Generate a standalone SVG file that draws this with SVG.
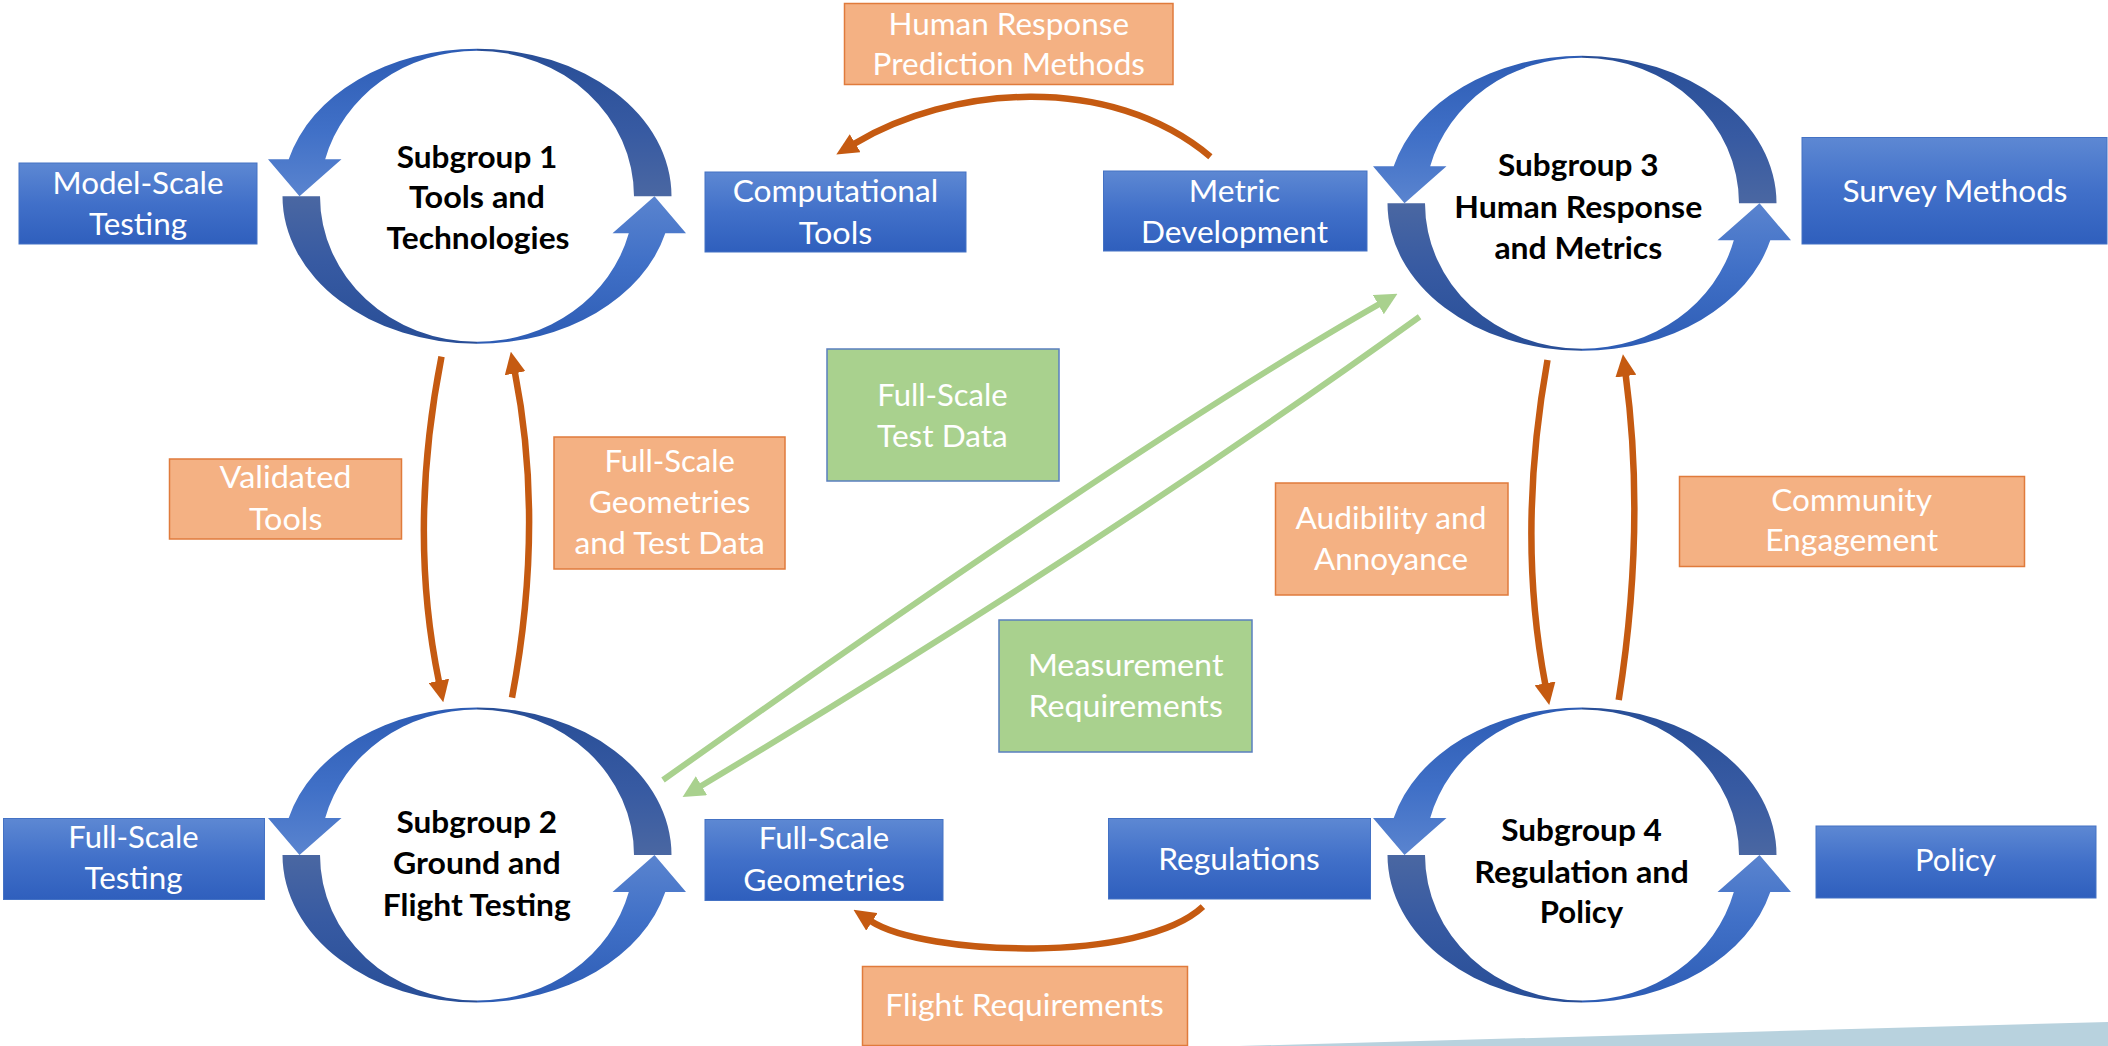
<svg xmlns="http://www.w3.org/2000/svg" width="2108" height="1046" viewBox="0 0 2108 1046">
  <style>
    .lbl { font-family: Lato, "Liberation Sans", sans-serif; font-size: 30.5px; fill: #ffffff; }
    .ttl { font-family: Lato, "Liberation Sans", sans-serif; font-size: 30.5px; font-weight: 700; fill: #000000; }
    .box-blue { fill: url(#g-box); stroke: #4472c4; stroke-width: 1; }
    .box-orange { fill: #f4b183; stroke: #e07b3c; stroke-width: 1.5; }
    .box-green { fill: #a9d18e; stroke: #5a7fbf; stroke-width: 1.5; }
    .conn-orange { fill: none; stroke: #c55a11; stroke-width: 6.5; marker-end: url(#ah-orange); }
    .conn-green { fill: none; stroke: #a9d18e; stroke-width: 6; marker-end: url(#ah-green); }
  </style>
  <defs>
    <linearGradient id="g-box" x1="0" y1="0" x2="0" y2="1">
      <stop offset="0" stop-color="#5d88d3"/>
      <stop offset="0.5" stop-color="#4170c9"/>
      <stop offset="1" stop-color="#2f5fbd"/>
    </linearGradient>
    <!-- lit half of each curved arrow: pinch point to arrowhead -->
    <linearGradient id="g-front" x1="0" y1="0" x2="0" y2="1">
      <stop offset="0" stop-color="#2d5cb4"/>
      <stop offset="0.55" stop-color="#4070c7"/>
      <stop offset="1" stop-color="#5a84cf"/>
    </linearGradient>
    <!-- shaded half of each curved arrow: flat tail to pinch point -->
    <linearGradient id="g-back" x1="0" y1="0" x2="0" y2="1">
      <stop offset="0" stop-color="#4a67a2"/>
      <stop offset="0.45" stop-color="#375aa2"/>
      <stop offset="1" stop-color="#284e97"/>
    </linearGradient>
    <path id="arc-front" d="M0,-147.5 A194.5,147.5 0 0 0 -188.3,-37 L-209,-37 L-177.5,0 L-135.5,-37 L-151.8,-37 A157,145.5 0 0 1 0,-145.5 Z"/>
    <path id="arc-back" d="M-194.5,0 A194.5,147.5 0 0 0 0,147.5 L0,145.5 A157,145.5 0 0 1 -157,0 Z"/>
    <!-- two curved arrows chasing each other round an ellipse -->
    <g id="ring">
      <use href="#arc-front" fill="url(#g-front)"/>
      <use href="#arc-back" fill="url(#g-back)"/>
      <use href="#arc-front" fill="url(#g-front)" transform="rotate(180)"/>
      <use href="#arc-back" fill="url(#g-back)" transform="rotate(180)"/>
    </g>
    <marker id="ah-orange" markerUnits="userSpaceOnUse" viewBox="0 0 22 21" markerWidth="22" markerHeight="21" refX="1" refY="10.5" orient="auto">
      <path d="M0,0 L22,10.5 L0,21 Z" fill="#c55a11"/>
    </marker>
    <marker id="ah-green" markerUnits="userSpaceOnUse" viewBox="0 0 22 22" markerWidth="22" markerHeight="22" refX="1" refY="11" orient="auto">
      <path d="M0,0 L22,11 L0,22 Z" fill="#a9d18e"/>
    </marker>
  </defs>

  <rect x="0" y="0" width="2108" height="1046" fill="#ffffff"/>

  <!-- decorative band in the lower right corner -->
  <g id="corner-band">
    <polygon points="1239,1046 2108,1022 2108,1046" fill="#b8d2de"/>
  </g>

  <g id="connectors">
    <path class="conn-orange" d="M1210.4,156.7 C1108.8,71.4 949,86.7 854.3,143.7"/>
    <path class="conn-orange" d="M1202.9,906.7 C1141.1,964.3 923.6,955.4 871.1,921.3"/>
    <path class="conn-orange" d="M441.5,356.7 Q407.5,530 439,681.8"/>
    <path class="conn-orange" d="M512,697.7 Q544.7,524 514.9,372.3"/>
    <path class="conn-orange" d="M1547.5,360 Q1516.4,533 1545.3,684.4"/>
    <path class="conn-orange" d="M1618.7,700 Q1646,527 1625.7,375.1"/>
    <path class="conn-green" d="M663,780 Q1148.6,435.2 1379.2,304.2"/>
    <path class="conn-green" d="M1419.6,316.7 Q1100,546.8 700.6,786.2"/>
  </g>

  <!-- subgroup cycles -->
  <g id="subgroup-1">
    <use href="#ring" transform="translate(477,196.3)"/>
    <text class="ttl" x="396.8" y="167.5" textLength="160.5" lengthAdjust="spacingAndGlyphs">Subgroup 1</text>
    <text class="ttl" x="409" y="208" textLength="136" lengthAdjust="spacingAndGlyphs">Tools and</text>
    <text class="ttl" x="386.5" y="248.5" textLength="183" lengthAdjust="spacingAndGlyphs">Technologies</text>
  </g>
  <g id="subgroup-2">
    <use href="#ring" transform="translate(477,855)"/>
    <text class="ttl" x="396.5" y="832.5" textLength="160.5" lengthAdjust="spacingAndGlyphs">Subgroup 2</text>
    <text class="ttl" x="393" y="874" textLength="167.6" lengthAdjust="spacingAndGlyphs">Ground and</text>
    <text class="ttl" x="382.8" y="915.8" textLength="188" lengthAdjust="spacingAndGlyphs">Flight Testing</text>
  </g>
  <g id="subgroup-3">
    <use href="#ring" transform="translate(1582,203.3)"/>
    <text class="ttl" x="1498" y="176" textLength="160.5" lengthAdjust="spacingAndGlyphs">Subgroup 3</text>
    <text class="ttl" x="1454.3" y="218.3" textLength="248" lengthAdjust="spacingAndGlyphs">Human Response</text>
    <text class="ttl" x="1494.4" y="258.8" textLength="167.8" lengthAdjust="spacingAndGlyphs">and Metrics</text>
  </g>
  <g id="subgroup-4">
    <use href="#ring" transform="translate(1582,855)"/>
    <text class="ttl" x="1501.3" y="840.8" textLength="160.5" lengthAdjust="spacingAndGlyphs">Subgroup 4</text>
    <text class="ttl" x="1474.3" y="882.5" textLength="214.5" lengthAdjust="spacingAndGlyphs">Regulation and</text>
    <text class="ttl" x="1539.8" y="923" textLength="83.4" lengthAdjust="spacingAndGlyphs">Policy</text>
  </g>

  <!-- activity boxes -->
  <g id="model-scale-testing">
    <rect class="box-blue" x="19" y="163" width="238" height="81"/>
    <text class="lbl" x="52.5" y="193.5" textLength="171" lengthAdjust="spacingAndGlyphs">Model-Scale</text>
    <text class="lbl" x="89" y="235" textLength="98" lengthAdjust="spacingAndGlyphs">Testing</text>
  </g>
  <g id="computational-tools">
    <rect class="box-blue" x="705" y="172" width="261" height="80"/>
    <text class="lbl" x="732.7" y="202" textLength="205.6" lengthAdjust="spacingAndGlyphs">Computational</text>
    <text class="lbl" x="798.8" y="243.5" textLength="73.5" lengthAdjust="spacingAndGlyphs">Tools</text>
  </g>
  <g id="metric-development">
    <rect class="box-blue" x="1103.5" y="171" width="263.5" height="80"/>
    <text class="lbl" x="1188.8" y="201.5" textLength="91.4" lengthAdjust="spacingAndGlyphs">Metric</text>
    <text class="lbl" x="1141" y="242.5" textLength="187" lengthAdjust="spacingAndGlyphs">Development</text>
  </g>
  <g id="survey-methods">
    <rect class="box-blue" x="1802" y="137.5" width="305" height="106.5"/>
    <text class="lbl" x="1842.5" y="201.5" textLength="225" lengthAdjust="spacingAndGlyphs">Survey Methods</text>
  </g>
  <g id="full-scale-testing">
    <rect class="box-blue" x="3.5" y="818.5" width="261" height="81"/>
    <text class="lbl" x="68.3" y="847.5" textLength="130.4" lengthAdjust="spacingAndGlyphs">Full-Scale</text>
    <text class="lbl" x="84.5" y="888.5" textLength="98" lengthAdjust="spacingAndGlyphs">Testing</text>
  </g>
  <g id="full-scale-geometries">
    <rect class="box-blue" x="705" y="819.5" width="238" height="81"/>
    <text class="lbl" x="758.8" y="849" textLength="130.4" lengthAdjust="spacingAndGlyphs">Full-Scale</text>
    <text class="lbl" x="743.2" y="890.5" textLength="161.7" lengthAdjust="spacingAndGlyphs">Geometries</text>
  </g>
  <g id="regulations">
    <rect class="box-blue" x="1108.5" y="818.5" width="262" height="80.5"/>
    <text class="lbl" x="1158.2" y="869.5" textLength="161.6" lengthAdjust="spacingAndGlyphs">Regulations</text>
  </g>
  <g id="policy">
    <rect class="box-blue" x="1816" y="826" width="280" height="72"/>
    <text class="lbl" x="1915" y="870.5" textLength="80.9" lengthAdjust="spacingAndGlyphs">Policy</text>
  </g>

  <!-- exchange labels -->
  <g id="human-response-prediction-methods">
    <rect class="box-orange" x="844.5" y="3.5" width="328.5" height="81"/>
    <text class="lbl" x="888.4" y="34.5" textLength="240.6" lengthAdjust="spacingAndGlyphs">Human Response</text>
    <text class="lbl" x="872.6" y="75" textLength="272.3" lengthAdjust="spacingAndGlyphs">Prediction Methods</text>
  </g>
  <g id="validated-tools">
    <rect class="box-orange" x="169.5" y="459" width="232" height="80"/>
    <text class="lbl" x="219.6" y="488" textLength="131.9" lengthAdjust="spacingAndGlyphs">Validated</text>
    <text class="lbl" x="248.9" y="529.5" textLength="73.5" lengthAdjust="spacingAndGlyphs">Tools</text>
  </g>
  <g id="full-scale-geometries-and-test-data">
    <rect class="box-orange" x="554" y="437" width="231" height="132"/>
    <text class="lbl" x="604.5" y="472" textLength="130.4" lengthAdjust="spacingAndGlyphs">Full-Scale</text>
    <text class="lbl" x="588.8" y="513" textLength="161.7" lengthAdjust="spacingAndGlyphs">Geometries</text>
    <text class="lbl" x="574.5" y="554" textLength="190.4" lengthAdjust="spacingAndGlyphs">and Test Data</text>
  </g>
  <g id="full-scale-test-data">
    <rect class="box-green" x="827" y="349" width="232" height="132"/>
    <text class="lbl" x="877.3" y="405.5" textLength="130.4" lengthAdjust="spacingAndGlyphs">Full-Scale</text>
    <text class="lbl" x="877.1" y="446.5" textLength="130.7" lengthAdjust="spacingAndGlyphs">Test Data</text>
  </g>
  <g id="measurement-requirements">
    <rect class="box-green" x="999" y="620" width="253" height="132"/>
    <text class="lbl" x="1027.9" y="675.5" textLength="195.6" lengthAdjust="spacingAndGlyphs">Measurement</text>
    <text class="lbl" x="1028.5" y="716.5" textLength="194.3" lengthAdjust="spacingAndGlyphs">Requirements</text>
  </g>
  <g id="audibility-and-annoyance">
    <rect class="box-orange" x="1275.5" y="483" width="232.5" height="112"/>
    <text class="lbl" x="1295.5" y="528.5" textLength="191" lengthAdjust="spacingAndGlyphs">Audibility and</text>
    <text class="lbl" x="1314" y="569.5" textLength="154" lengthAdjust="spacingAndGlyphs">Annoyance</text>
  </g>
  <g id="community-engagement">
    <rect class="box-orange" x="1679.5" y="476.5" width="345" height="90"/>
    <text class="lbl" x="1771.3" y="510.5" textLength="160.7" lengthAdjust="spacingAndGlyphs">Community</text>
    <text class="lbl" x="1765.2" y="551" textLength="173" lengthAdjust="spacingAndGlyphs">Engagement</text>
  </g>
  <g id="flight-requirements">
    <rect class="box-orange" x="862.5" y="966.5" width="325" height="79"/>
    <text class="lbl" x="885.3" y="1016" textLength="278.4" lengthAdjust="spacingAndGlyphs">Flight Requirements</text>
  </g>
</svg>
